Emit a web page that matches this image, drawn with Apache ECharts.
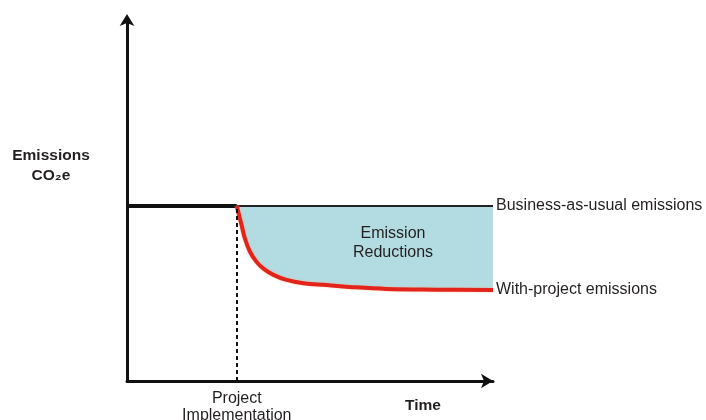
<!DOCTYPE html>
<html>
<head>
<meta charset="utf-8">
<script src="https://cdn.jsdelivr.net/npm/echarts@6/dist/echarts.min.js"></script>
<style>
  html, body { margin: 0; padding: 0; background: #ffffff; }
  #chart { width: 706px; height: 420px; }
</style>
</head>
<body>
<div id="chart"></div>
<script>
// Conceptual emissions timeline (arbitrary units)
const implementationTime = 30;
const baselineLevel = 48.5;

// Business-as-usual emissions: before and after project start
const bauBefore = [[0, baselineLevel], [implementationTime, baselineLevel]];
const bauAfter = [[implementationTime, baselineLevel], [100, baselineLevel]];

// With-project emissions after implementation
const projectTimes = [30, 31.3, 32.2, 33.6, 35.4, 37.2, 40, 43.6, 48.2, 54.6, 61.7, 71, 84.6, 100];
const projectValues = [48.5, 43.2, 39.5, 35.8, 33.0, 31.2, 29.4, 28.0, 27.1, 26.6, 26.0, 25.5, 25.3, 25.2];

const projectSeries = projectTimes.map((t, i) => [t, projectValues[i]]);
// white mask above the baseline, starting a little before the project so no seam shows
const aboveBaseline = [[implementationTime - 3, baselineLevel], [100, baselineLevel]];

const FONT = '"Liberation Sans", Arial, Helvetica, sans-serif';
const TEXT = '#231f20';
const FS = 16;
const FS_BOLD = 15.5;
const SMOOTH = 0.4;

function endLabel(text) {
  return { show: true, distance: 3, formatter: text, fontFamily: FONT, fontSize: FS, color: TEXT };
}

const chart = echarts.init(document.getElementById('chart'), null, { renderer: 'canvas' });
chart.setOption({
  animation: false,
  backgroundColor: '#ffffff',
  grid: { left: 127, right: 213, top: 20, bottom: 39, containLabel: false },
  xAxis: {
    type: 'value', min: 0, max: 100,
    axisLine: { show: true, symbol: ['none', 'arrow'], symbolSize: [11, 12], symbolOffset: [0, 0],
      lineStyle: { color: '#111', width: 3 } },
    axisTick: { show: false }, axisLabel: { show: false }, splitLine: { show: false }
  },
  yAxis: {
    type: 'value', min: 0, max: 100,
    axisLine: { show: true, symbol: ['none', 'arrow'], symbolSize: [11, 12], symbolOffset: [0, 6],
      lineStyle: { color: '#111', width: 3 } },
    axisTick: { show: false }, axisLabel: { show: false }, splitLine: { show: false }
  },
  series: [
    // Shade everything above the with-project curve ...
    {
      name: 'Emission Reductions', type: 'line', data: projectSeries,
      smooth: SMOOTH, symbol: 'none', silent: true,
      lineStyle: { width: 0, opacity: 0 },
      areaStyle: { color: '#b3dce2', opacity: 1, origin: 'end' }
    },
    // ... then clear the part above the business-as-usual level
    {
      name: 'above baseline', type: 'line', data: aboveBaseline,
      symbol: 'none', silent: true,
      lineStyle: { width: 0, opacity: 0 },
      areaStyle: { color: '#ffffff', opacity: 1, origin: 'end' }
    },
    {
      name: 'BAU before', type: 'line', data: bauBefore, symbol: 'none',
      lineStyle: { color: '#111', width: 4 }
    },
    {
      name: 'Business-as-usual emissions', type: 'line', data: bauAfter,
      symbol: 'none',
      lineStyle: { color: '#222', width: 2 },
      endLabel: endLabel('Business-as-usual emissions'),
      markLine: {
        silent: true, symbol: 'none',
        lineStyle: { color: '#111', width: 2, type: [4, 3] },
        label: {
          show: true, position: 'start', distance: 9,
          formatter: 'Project\nImplementation',
          fontFamily: FONT, fontSize: FS, color: TEXT, lineHeight: 17
        },
        data: [[{ coord: [implementationTime, 0] }, { coord: [implementationTime, baselineLevel] }]]
      }
    },
    {
      name: 'With-project emissions', type: 'line', data: projectSeries,
      smooth: SMOOTH, symbol: 'none',
      lineStyle: { color: '#e3241b', width: 4, shadowColor: 'rgba(245,170,130,0.7)', shadowBlur: 2 },
      endLabel: endLabel('With-project emissions')
    }
  ],
  graphic: [
    {
      type: 'text', x: 51, y: 146, z: 100,
      style: {
        text: 'Emissions\nCO₂e', align: 'center',
        font: 'bold ' + FS_BOLD + 'px ' + FONT, fill: TEXT, lineHeight: 20
      }
    },
    {
      type: 'text', x: 393, y: 224, z: 100,
      style: {
        text: 'Emission\nReductions', align: 'center',
        font: FS + 'px ' + FONT, fill: TEXT, lineHeight: 19
      }
    },
    {
      type: 'text', x: 423, y: 398, z: 100,
      style: { text: 'Time', align: 'center', font: 'bold ' + FS_BOLD + 'px ' + FONT, fill: TEXT }
    }
  ]
});
</script>
</body>
</html>
